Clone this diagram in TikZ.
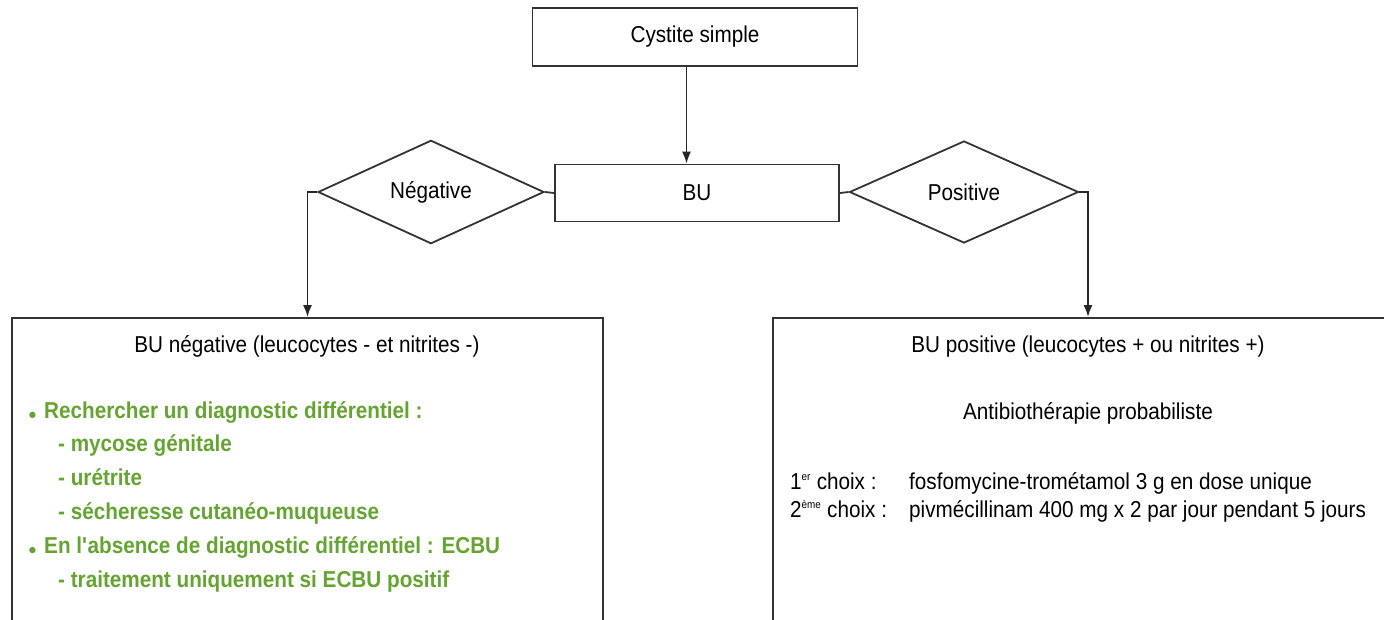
\documentclass[tikz,border=0pt]{standalone}
\usepackage{fontspec}
\setmainfont[FakeStretch=0.9]{Liberation Sans}
\usepackage{xcolor}
\usetikzlibrary{positioning, arrows.meta, shapes.geometric}
\definecolor{vertpuce}{RGB}{100,164,48}
\newcommand{\puce}{\makebox[15pt][l]{\tikz\fill[vertpuce] (3.2pt,3.2pt) circle (3.2pt);}}
\newcommand{\expo}[1]{\textsuperscript{\fontsize{11}{11}\selectfont #1}}

\begin{document}
\begin{tikzpicture}[x=1pt,y=1pt,yscale=-1,
  every node/.style={font=\fontsize{23}{28}\selectfont},
  boite/.style={draw=black!80, line width=1.8pt, rectangle, inner sep=0pt},
  losange/.style={draw=black!80, line width=1.8pt, diamond, inner sep=0pt},
  trait/.style={draw=black!80, line width=1.8pt},
  fleche/.style={draw=black!85, line width=1.6pt, -{Latex[length=12pt,width=9pt]}}]
\clip (0,0) rectangle (1384,619);
% boites
\node [boite, minimum width=325pt, minimum height=58pt] (cystite) at (695,37) {Cystite simple};
\node [boite, minimum width=284pt, minimum height=57pt] (bu) at (697,193) {BU};
\node [losange, minimum width=226pt, minimum height=102pt] (neg) at (431,192) {Négative};
\node [losange, minimum width=229pt, minimum height=102pt] (pos) at (964,192) {Positive};
\node [boite, minimum width=591pt, minimum height=330pt, anchor=north] (buneg) at (307.5,317) {};
\node [boite, minimum width=630pt, minimum height=330pt, anchor=north] (bupos) at (1088,317) {};
% liens
\draw [fleche] ([xshift=-8.5pt]cystite.south) -- ([xshift=-8.5pt]cystite.south |- bu.north);
\draw [trait] (bu.west) -- (neg.east);
\draw [trait] (bu.east) -- (pos.west);
\draw [fleche] (neg.west) -| (buneg.north);
\draw [fleche] (pos.east) -| (bupos.north);
% Text Node
\node (titreneg) at (307,346) {BU négative (leucocytes - et nitrites -)};
% Text Node
\node [anchor=north west, inner sep=0pt, align=left, text=vertpuce, font=\bfseries\fontsize{23}{33.8}\selectfont] (diffneg) at (29,401) {\puce Rechercher un diagnostic différentiel :\\
\hspace*{29pt}- mycose génitale\\
\hspace*{29pt}- urétrite\\
\hspace*{29pt}- sécheresse cutanéo-muqueuse\\
\puce En l\textquotesingle absence de diagnostic différentiel : ECBU\\
\hspace*{29pt}- traitement uniquement si ECBU positif};
% Text Node
\node (titrepos) at (1088,347) {BU positive (leucocytes + ou nitrites +)};
% Text Node
\node (antibio) at (1088,413) {Antibiothérapie probabiliste};
% Text Node
\node [anchor=north west, inner sep=0pt] (choix) at (790,470) {\begin{tabular}{@{}p{119pt}@{}l@{}}
1\expo{er} choix : & fosfomycine-trométamol 3 g en dose unique\\
2\expo{ème} choix : & pivmécillinam 400 mg x 2 par jour pendant 5 jours
\end{tabular}};
\end{tikzpicture}
\end{document}
